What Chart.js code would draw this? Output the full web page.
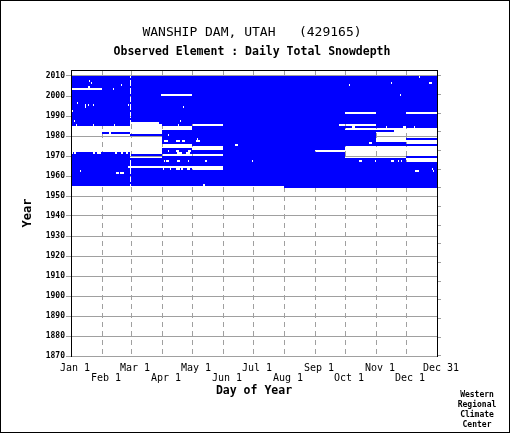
<!DOCTYPE html>
<html>
<head>
<meta charset="utf-8">
<title>WANSHIP DAM, UTAH - Daily Total Snowdepth</title>
<script src="https://cdn.jsdelivr.net/npm/chart.js@4/dist/chart.umd.min.js"></script>
<style>
   html, body { margin: 0; padding: 0; background: #fff; }
   #frame { position: relative; width: 510px; height: 433px; box-sizing: border-box; border: 1px solid #000; }
   #frame canvas { position: absolute; left: -1px; top: -1px; }
   #credit {
      position: absolute; left: 446px; top: 389px; width: 60px;
      font: bold 8px/10px "DejaVu Sans Mono", monospace; text-align: center; color: #000;
   }
</style>
</head>
<body>
<div id="frame">
   <canvas id="_dm-snowChart" width="510" height="433"></canvas>
   <div id="credit">Western<br>Regional<br>Climate<br>Center</div>
</div>
<script>
// Station record
// ----------------------------------------------
const firstYear   = 1954;
const lastYear    = 2009;
const recordStart = 214;   // first report in 1954: Aug 1

// Day-of-year axis (366 day calendar, day 60 = Feb 29)
const monthDays   = [0, 31, 60, 91, 121, 152, 182, 213, 244, 274, 305, 335, 366];
const monthLabels = ['Jan 1', 'Feb 1', 'Mar 1', 'Apr 1', 'May 1', 'Jun 1', 'Jul 1', 'Aug 1', 'Sep 1', 'Oct 1', 'Nov 1', 'Dec 1', 'Dec 31'];
const yearTicks   = [1870, 1880, 1890, 1900, 1910, 1920, 1930, 1940, 1950, 1960, 1970, 1980, 1990, 2000, 2010];

// Missing reports: [year, first day, last day]
const gaps = [
   [2009, 349, 349],
   [2007, 19, 19],
   [2006, 21, 21], [2006, 321, 321], [2006, 359, 361],
   [2005, 51, 51], [2005, 279, 279],
   [2004, 18, 19],
   [2003, 1, 31], [2003, 43, 43],
   [2000, 91, 121], [2000, 330, 330],
   [1996, 1, 1], [1996, 7, 7],
   [1995, 15, 15], [1995, 18, 18], [1995, 23, 23], [1995, 58, 58],
   [1994, 15, 15], [1994, 113, 113],
   [1992, 2, 2],
   [1991, 275, 305], [1991, 336, 366],
   [1987, 4, 4], [1987, 110, 110],
   [1986, 60, 88],
   [1985, 6, 6], [1985, 23, 23], [1985, 44, 44], [1985, 60, 91], [1985, 108, 108], [1985, 122, 152], [1985, 269, 305],
   [1984, 1, 121], [1984, 282, 284], [1984, 316, 316], [1984, 333, 335], [1984, 344, 344],
   [1983, 1, 121], [1983, 275, 366],
   [1982, 1, 91], [1982, 324, 366],
   [1981, 1, 31], [1981, 39, 40], [1981, 60, 91], [1981, 306, 366],
   [1980, 1, 59], [1980, 98, 98], [1980, 306, 366],
   [1979, 1, 91], [1979, 306, 366],
   [1978, 1, 91], [1978, 127, 127], [1978, 306, 335],
   [1977, 1, 91], [1977, 94, 97], [1977, 106, 109], [1977, 112, 114], [1977, 126, 129], [1977, 306, 366],
   [1976, 1, 91], [1976, 299, 301], [1976, 336, 366],
   [1975, 1, 121], [1975, 165, 167],
   [1974, 1, 152], [1974, 275, 366],
   [1973, 1, 91], [1973, 122, 152], [1973, 275, 366],
   [1972, 1, 91], [1972, 98, 98], [1972, 106, 108], [1972, 118, 120], [1972, 245, 366],
   [1971, 1, 2], [1971, 4, 5], [1971, 23, 24], [1971, 27, 30], [1971, 45, 46], [1971, 51, 52], [1971, 56, 57],
   [1971, 60, 91], [1971, 107, 111], [1971, 116, 119], [1971, 275, 366],
   [1970, 92, 152], [1970, 275, 366],
   [1969, 60, 91], [1969, 275, 335],
   [1968, 336, 366],
   [1967, 94, 94], [1967, 96, 98], [1967, 107, 109], [1967, 118, 118], [1967, 135, 136], [1967, 182, 182],
   [1967, 289, 291], [1967, 305, 305], [1967, 321, 323], [1967, 328, 328], [1967, 331, 331], [1967, 336, 366],
   [1964, 58, 152],
   [1963, 93, 93], [1963, 100, 100], [1963, 106, 109], [1963, 111, 112], [1963, 117, 119], [1963, 122, 152], [1963, 362, 362],
   [1962, 10, 10], [1962, 345, 348], [1962, 363, 363],
   [1961, 46, 48], [1961, 50, 53],
   [1955, 133, 134]
];



// Colors / fonts
// ----------------------------------------------
const dataColor = '#0000ff';
const gridColor = '#a0a0a0';
const textColor = '#000';
const mono      = '"DejaVu Sans Mono", monospace';

const isLeap = yr => (yr % 4 === 0 && yr % 100 !== 0) || yr % 400 === 0;



// Turn the gaps into runs of reported days, one floating bar per run
// ----------------------------------------------
const buildRuns = () => {
   const runs = [];
   for (let yr = firstYear; yr <= lastYear; yr++) {
      const have = [];
      for (let d = 1; d <= 366; d++) have[d] = yr > firstYear || d >= recordStart;
      if (!isLeap(yr)) have[60] = false;
      gaps.filter(g => g[0] === yr).forEach(([, from, to]) => {
         for (let d = from; d <= to; d++) have[d] = false;
      });

      let start = null;
      for (let d = 1; d <= 367; d++) {
         if (d <= 366 && have[d]) {
            if (start === null) start = d;
         } else if (start !== null) {
            runs.push({ x: [start - 1, d - 1], y: yr + 0.5 });
            start = null;
         }
      }
   }
   return runs;
}

const fixedTicks = values => scale => { scale.ticks = values.map(v => ({ value: v })); };



// Availability chart
// ----------------------------------------------
const snowChart = new Chart( document.getElementById('_dm-snowChart'), {
   type: 'bar',
   data: {
      datasets: [
         {
            label: 'Daily Total Snowdepth',
            data: buildRuns(),
            backgroundColor: dataColor,
            borderWidth: 0,
            inflateAmount: 0,
            barPercentage: 1,
            categoryPercentage: 1,
            grouped: false
         }
      ]
   },
   options: {
      indexAxis: 'y',
      responsive: false,
      animation: false,
      devicePixelRatio: 1,
      events: [],
      layout: {
         padding: { left: 0, right: 6, top: 0, bottom: 0 }
      },
      plugins: {
         legend: { display: false },
         tooltip: { enabled: false },
         title: {
            display: true,
            text: 'WANSHIP DAM, UTAH   (429165)',
            color: textColor,
            font: { family: mono, size: 13, weight: 'normal', lineHeight: '16px' },
            padding: { top: 25, bottom: 0 }
         },
         subtitle: {
            display: true,
            text: 'Observed Element : Daily Total Snowdepth',
            color: textColor,
            font: { family: mono, size: 11.5, weight: 'bold', lineHeight: '14px' },
            padding: { top: 4, bottom: 11 }
         }
      },

      scales: {
         x: {
            type: 'linear',
            position: 'bottom',
            min: 0,
            max: 366,
            afterBuildTicks: fixedTicks(monthDays),
            afterFit: scale => { scale.height = 77; },
            grid: {
               // the first and last lines sit on the frame
               color: ctx => (ctx.index > 0 && ctx.index < monthDays.length - 1) ? gridColor : 'transparent',
               drawTicks: false
            },
            border: { color: gridColor, dash: [5, 4], z: 1 },
            ticks: {
               autoSkip: false,
               maxRotation: 0,
               minRotation: 0,
               padding: 7,
               labelOffset: 4,
               color: textColor,
               font: { family: mono, size: 10, lineHeight: '10px' },
               // alternate the labels on two rows
               callback: (value, index) => index % 2 ? ['', monthLabels[index]] : monthLabels[index]
            },
            title: {
               display: true,
               text: 'Day of Year',
               color: textColor,
               font: { family: mono, size: 11.5, weight: 'bold', lineHeight: '14px' },
               padding: { top: 0, bottom: 35 }
            }
         },
         x2: {
            type: 'linear',
            position: 'top',
            min: 0,
            max: 366,
            afterFit: scale => { scale.height = 0; },
            grid: { display: false, drawTicks: false },
            border: { color: textColor, z: 1 },
            ticks: { display: false }
         },
         y: {
            type: 'linear',
            position: 'left',
            min: 1870,
            max: 2013,
            offset: false,
            afterBuildTicks: fixedTicks(yearTicks),
            afterFit: scale => { scale.width = 71; },
            grid: {
               offset: false,
               color: gridColor,
               tickLength: 5
            },
            border: { color: textColor, z: 1 },
            ticks: {
               padding: 1,
               color: textColor,
               font: { family: mono, size: 8, weight: 'bold' },
               callback: value => String(value)
            },
            title: {
               display: true,
               text: 'Year',
               color: textColor,
               font: { family: mono, size: 12, weight: 'bold', lineHeight: '14px' },
               padding: { top: 21, bottom: 0 }
            }
         },
         y2: {
            type: 'linear',
            position: 'right',
            min: 1870,
            max: 2013,
            afterBuildTicks: fixedTicks(yearTicks),
            afterFit: scale => { scale.width = 67; },
            grid: {
               drawOnChartArea: false,
               color: gridColor,
               tickLength: 4
            },
            border: { color: textColor, z: 1 },
            ticks: { display: false }
         }
      }
   }
});
</script>
</body>
</html>
